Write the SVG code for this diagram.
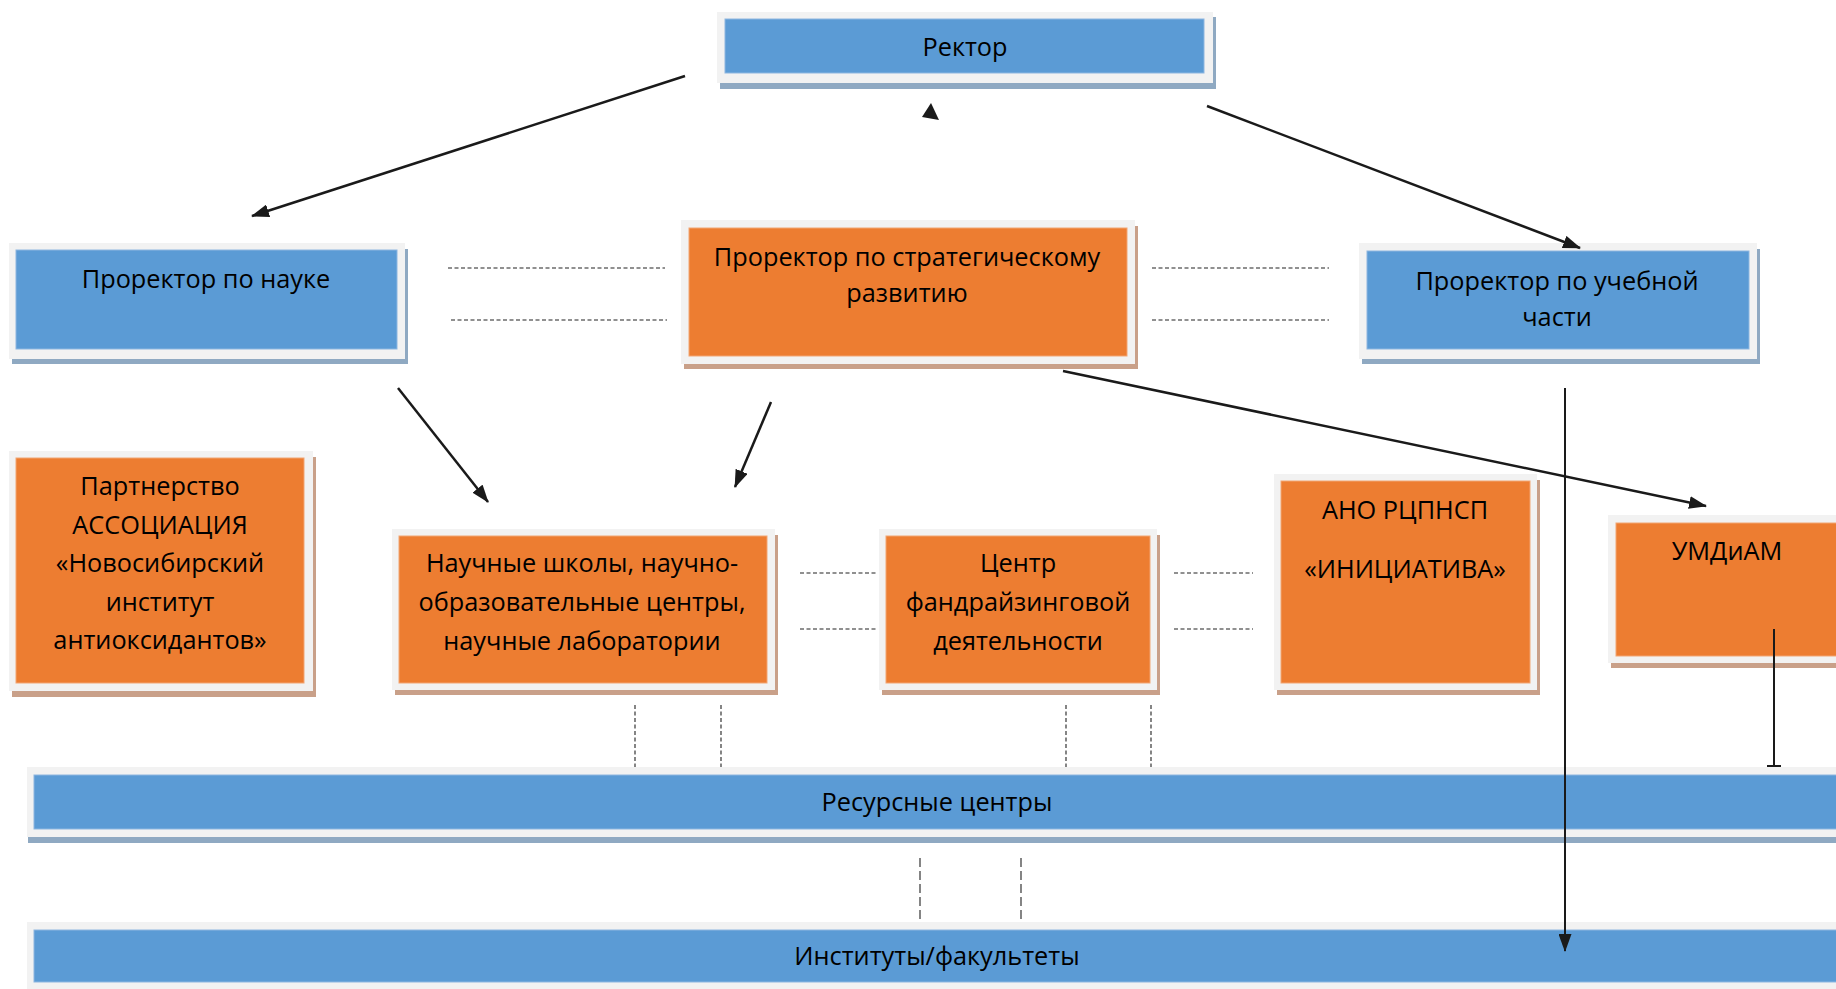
<svg xmlns="http://www.w3.org/2000/svg" width="1836" height="989" viewBox="0 0 1836 989">
<style>
.frame{fill:#F2F2F2}
.shB{fill:#8FA9C2}
.shO{fill:#C9A089}
.blue{fill:#5B9BD5;stroke:#8DB6E0;stroke-width:1}
.orange{fill:#ED7D31;stroke:#F2A573;stroke-width:1}
text{font-family:"Open Sans","Noto Sans","DejaVu Sans",sans-serif;font-size:25.3px;fill:#000;text-anchor:middle}
.arr{stroke:#1a1a1a;stroke-width:2.5;fill:none;marker-end:url(#ah)}
.dash{stroke:#222;stroke-width:1.1;stroke-dasharray:4 2.5;fill:none}
.solid{stroke:#1a1a1a;stroke-width:2;fill:none}
</style>
<defs>
<marker id="ah" viewBox="0 0 18 13" refX="17" refY="6.5" markerWidth="18" markerHeight="13" markerUnits="userSpaceOnUse" orient="auto">
<path d="M0,0 L18,6.5 L0,13 z" fill="#1a1a1a"/>
</marker>
</defs>
<rect width="1836" height="989" fill="#fff"/>

<g id="rector">
<rect class="shB" x="720" y="17" width="496" height="72"/>
<rect class="frame" x="717" y="12" width="496" height="71"/>
<rect class="blue" x="725" y="19" width="479" height="54"/>
<text x="965" y="56">Ректор</text>
</g>

<g id="prorector-science">
<rect class="shB" x="12" y="249" width="396" height="115"/>
<rect class="frame" x="9" y="243" width="396" height="116"/>
<rect class="blue" x="16" y="250" width="381" height="99"/>
<text x="206" y="288">Проректор по науке</text>
</g>

<g id="prorector-strategy">
<rect class="shO" x="684" y="226" width="454" height="143"/>
<rect class="frame" x="681" y="220" width="454" height="144"/>
<rect class="orange" x="689" y="228" width="438" height="128"/>
<text x="907" y="266">Проректор по стратегическому</text>
<text x="907" y="302">развитию</text>
</g>

<g id="prorector-education">
<rect class="shB" x="1362" y="249" width="398" height="115"/>
<rect class="frame" x="1359" y="243" width="398" height="116"/>
<rect class="blue" x="1367" y="251" width="382" height="98"/>
<text x="1557" y="290">Проректор по учебной</text>
<text x="1557" y="326">части</text>
</g>

<g id="partnership">
<rect class="shO" x="12" y="457" width="304" height="240"/>
<rect class="frame" x="9" y="451" width="304" height="240"/>
<rect class="orange" x="16" y="458" width="288" height="225"/>
<text x="160" y="495">Партнерство</text>
<text x="160" y="534">АССОЦИАЦИЯ</text>
<text x="160" y="572">«Новосибирский</text>
<text x="160" y="611">институт</text>
<text x="160" y="649">антиоксидантов»</text>
</g>

<g id="science-schools">
<rect class="shO" x="395" y="535" width="383" height="160"/>
<rect class="frame" x="392" y="529" width="383" height="161"/>
<rect class="orange" x="399" y="536" width="368" height="147"/>
<text x="582" y="572">Научные школы, научно-</text>
<text x="582" y="611">образовательные центры,</text>
<text x="582" y="650">научные лаборатории</text>
</g>

<g id="fundraising">
<rect class="shO" x="882" y="535" width="278" height="160"/>
<rect class="frame" x="879" y="529" width="278" height="161"/>
<rect class="orange" x="886" y="536" width="264" height="147"/>
<text x="1018" y="572">Центр</text>
<text x="1018" y="611">фандрайзинговой</text>
<text x="1018" y="650">деятельности</text>
</g>

<g id="ano">
<rect class="shO" x="1277" y="480" width="263" height="215"/>
<rect class="frame" x="1274" y="474" width="263" height="216"/>
<rect class="orange" x="1281" y="481" width="249" height="202"/>
<text x="1405" y="519">АНО РЦПНСП</text>
<text x="1405" y="578">«ИНИЦИАТИВА»</text>
</g>

<g id="umdiam">
<rect class="shO" x="1611" y="521" width="240" height="147"/>
<rect class="frame" x="1608" y="515" width="240" height="148"/>
<rect class="orange" x="1616" y="523" width="240" height="133"/>
<text x="1727" y="560">УМДиАМ</text>
</g>

<g id="resource-centers">
<rect class="shB" x="28" y="772" width="1820" height="71"/>
<rect class="frame" x="27" y="767" width="1820" height="70"/>
<rect class="blue" x="34" y="775" width="1820" height="54"/>
<text x="937" y="811">Ресурсные центры</text>
</g>

<g id="institutes">
<rect class="frame" x="27" y="922" width="1820" height="70"/>
<rect class="blue" x="34" y="930" width="1820" height="52"/>
<text x="937" y="965">Институты/факультеты</text>
</g>

<g id="connectors">
<line class="arr" x1="685" y1="76" x2="252" y2="216"/>
<line class="arr" x1="1207" y1="106" x2="1580" y2="248"/>
<polygon points="931,103 922,117 939,120" fill="#1a1a1a"/>
<line class="arr" x1="398" y1="388" x2="488" y2="502"/>
<line class="arr" x1="771" y1="402" x2="735" y2="487"/>
<line class="arr" x1="1063" y1="371" x2="1706" y2="506"/>
<line class="arr" x1="1565" y1="388" x2="1565" y2="951" style="stroke-width:2"/>
<line class="solid" x1="1774" y1="629" x2="1774" y2="766"/>
<line class="solid" x1="1767" y1="766" x2="1781" y2="766"/>
<line class="dash" x1="448" y1="268" x2="665" y2="268"/>
<line class="dash" x1="451" y1="320" x2="667" y2="320"/>
<line class="dash" x1="1152" y1="268" x2="1329" y2="268"/>
<line class="dash" x1="1152" y1="320" x2="1329" y2="320"/>
<line class="dash" x1="800" y1="573" x2="878" y2="573"/>
<line class="dash" x1="800" y1="629" x2="878" y2="629"/>
<line class="dash" x1="1174" y1="573" x2="1253" y2="573"/>
<line class="dash" x1="1174" y1="629" x2="1253" y2="629"/>
<line class="dash" x1="635" y1="705" x2="635" y2="767"/>
<line class="dash" x1="721" y1="705" x2="721" y2="767"/>
<line class="dash" x1="1066" y1="705" x2="1066" y2="767"/>
<line class="dash" x1="1151" y1="705" x2="1151" y2="767"/>
<line class="dash" x1="920" y1="858" x2="920" y2="923" style="stroke-dasharray:9 4"/>
<line class="dash" x1="1021" y1="858" x2="1021" y2="923" style="stroke-dasharray:9 4"/>
</g>
</svg>
